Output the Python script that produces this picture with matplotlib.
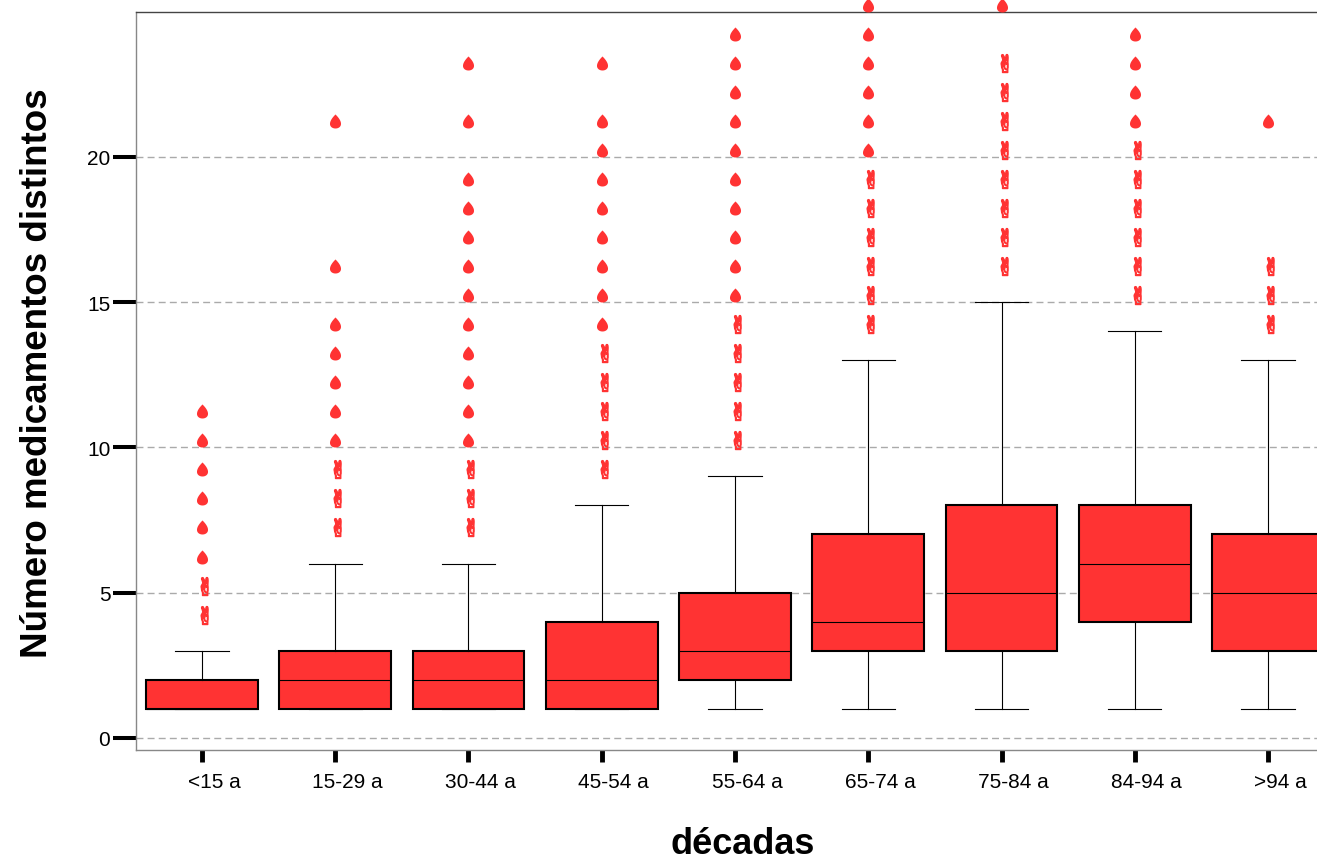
import numpy as np
import matplotlib
matplotlib.use('Agg')
import matplotlib.pyplot as plt
from matplotlib.path import Path
from matplotlib.textpath import TextPath
from matplotlib.font_manager import FontProperties
from matplotlib.transforms import ScaledTranslation

# ---------------- data ----------------
categories = ["<15 a", "15-29 a", "30-44 a", "45-54 a", "55-64 a",
              "65-74 a", "75-84 a", "84-94 a", ">94 a"]
q1 = [1, 1, 1, 1, 2, 3, 3, 4, 3]
median = [1, 2, 2, 2, 3, 4, 5, 6, 5]
q3 = [2, 3, 3, 4, 5, 7, 8, 8, 7]
whisker_low = [1, 1, 1, 1, 1, 1, 1, 1, 1]
whisker_high = [3, 6, 6, 8, 9, 13, 15, 14, 13]
outliers = [[4, 5], [7, 8, 9], [7, 8, 9], [9, 10, 11, 12, 13],
            [10, 11, 12, 13, 14], [14, 15, 16, 17, 18, 19],
            [16, 17, 18, 19, 20, 21, 22, 23], [15, 16, 17, 18, 19, 20],
            [14, 15, 16]]
extremes = [[6, 7, 8, 9, 10, 11], [10, 11, 12, 13, 14, 16, 21],
            [10, 11, 12, 13, 14, 15, 16, 17, 18, 19, 21, 23],
            [14, 15, 16, 17, 18, 19, 20, 21, 23],
            [15, 16, 17, 18, 19, 20, 21, 22, 23, 24],
            [20, 21, 22, 23, 24, 25], [25], [21, 22, 23, 24], [21]]
yticks = [0, 5, 10, 15, 20]
ylabel = "Número medicamentos distintos"
xlabel = "décadas"

RED = '#FF3333'
plt.rcParams['font.family'] = ['Liberation Sans', 'DejaVu Sans']

fig = plt.figure(figsize=(13.17, 8.62), dpi=100)
ax = fig.add_axes([136/1317, 111/862, (1320-136)/1317, 738/862])

stats = []
for i in range(len(categories)):
    stats.append(dict(q1=q1[i], med=median[i], q3=q3[i],
                      whislo=whisker_low[i], whishi=whisker_high[i],
                      fliers=[], label=categories[i]))
pos = np.arange(len(categories))
ax.bxp(stats, positions=pos, widths=0.84, patch_artist=True, showfliers=False,
       capwidths=0.4,
       boxprops=dict(facecolor=RED, edgecolor='black', linewidth=1.5),
       medianprops=dict(color='black', linewidth=0.8),
       whiskerprops=dict(color='black', linewidth=0.8),
       capprops=dict(color='black', linewidth=0.8))

# droplet marker (extremes): bottom at anchor
t = np.linspace(0, 2*np.pi, 80)
dx = np.sin(t) * np.sin(t/2)
dx = dx / np.abs(dx).max() * 5.5
dy = 14 * (1 + np.cos(t)) / 2
dverts = np.column_stack([dx, dy])
dcodes = [Path.MOVETO] + [Path.LINETO]*(len(t)-2) + [Path.CLOSEPOLY]
drop_path = Path(dverts, dcodes)

# victory-hand marker (outliers)
tp = TextPath((0, 0), '\u270c', size=1, prop=FontProperties(family='DejaVu Sans'))
v = tp.vertices.copy()
xmin, ymin = v.min(0)
xmax, ymax = v.max(0)
v[:, 0] = (v[:, 0] - (xmin + xmax)/2) / (xmax - xmin) * 11
v[:, 1] = (v[:, 1] - ymin) / (ymax - ymin) * 18 - 2
hand_path = Path(v, tp.codes)

for i in range(len(categories)):
    if extremes[i]:
        ax.plot([pos[i]]*len(extremes[i]), extremes[i], ls='none',
                marker=drop_path, ms=20.2, color=RED, mec=RED, mew=0,
                clip_on=False, zorder=4)
    if outliers[i]:
        ax.plot([pos[i]]*len(outliers[i]), outliers[i], ls='none',
                marker=hand_path, ms=23, color=RED, mec=RED, mew=1.0,
                clip_on=False, zorder=4)

ax.set_xlim(-0.495, 8.39)
ax.set_ylim(-0.42, 24.99)
ax.set_yticks(yticks)
ax.set_xticks(pos)
ax.set_xticklabels(categories)
ax.yaxis.grid(True, linestyle=(0, (5, 3)), color='#aaaaaa', linewidth=1)
ax.set_axisbelow(True)

for s in ['left', 'bottom']:
    ax.spines[s].set_color('#888888')
    ax.spines[s].set_linewidth(1)
ax.spines['top'].set_color('#444444')
ax.spines['top'].set_linewidth(1)
ax.spines['right'].set_visible(False)

ax.tick_params(axis='y', length=16.5, width=2.9, pad=2, labelsize=15, color='black')
ax.tick_params(axis='x', length=8.6, width=3.5, pad=7, labelsize=15, color='black')
off = ScaledTranslation(12/100, 0, fig.dpi_scale_trans)
for lab in ax.get_xticklabels():
    lab.set_transform(lab.get_transform() + off)

fig.text(38/1317, (862-373.5)/862, ylabel, rotation=90, ha='center', va='center',
         fontsize=26.5, fontweight='bold')
fig.text(743/1317, 8/862, xlabel, ha='center', va='baseline',
         fontsize=26, fontweight='bold')

fig.savefig('out.png', dpi=100)
